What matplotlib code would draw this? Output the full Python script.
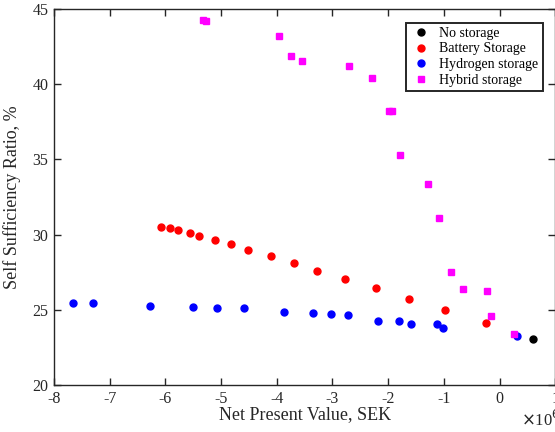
import numpy as np
import matplotlib.pyplot as plt
from matplotlib.ticker import FuncFormatter

# NPV in SEK, self sufficiency ratio in %
npv_none = [0.602e6]
ssr_none = [23.08]

npv_battery = [-6.075e6, -5.910e6, -5.776e6, -5.567e6, -5.389e6, -5.103e6, -4.823e6, -4.518e6,
               -4.112e6, -3.699e6, -3.280e6, -2.771e6, -2.219e6, -1.621e6, -0.986e6, -0.243e6]
ssr_battery = [30.51, 30.42, 30.29, 30.11, 29.91, 29.65, 29.36, 29.00,
               28.58, 28.12, 27.61, 27.04, 26.42, 25.73, 24.98, 24.09]

npv_hydrogen = [-7.651e6, -7.301e6, -6.278e6, -5.503e6, -5.065e6, -4.588e6, -3.877e6, -3.349e6,
                -3.019e6, -2.727e6, -2.174e6, -1.799e6, -1.596e6, -1.132e6, -1.011e6, 0.310e6]
ssr_hydrogen = [25.44, 25.44, 25.27, 25.18, 25.11, 25.11, 24.85, 24.82,
                24.71, 24.67, 24.27, 24.27, 24.07, 24.07, 23.81, 23.23]

npv_hybrid = [-5.319e6, -5.274e6, -3.966e6, -3.737e6, -3.546e6, -2.708e6, -2.282e6, -1.980e6,
              -1.935e6, -1.793e6, -1.291e6, -1.094e6, -0.878e6, -0.649e6, -0.217e6, -0.160e6, 0.259e6]
ssr_hybrid = [44.27, 44.18, 43.21, 41.88, 41.57, 41.19, 40.42, 38.21,
              38.21, 35.27, 33.38, 31.11, 27.50, 26.39, 26.24, 24.56, 23.38]

plt.rcParams['font.family'] = ['Liberation Serif', 'DejaVu Serif']
plt.rcParams['axes.unicode_minus'] = False
dark = '#262626'

fig = plt.figure(figsize=(5.55, 4.32), dpi=100)
ax = fig.add_axes([0.0973, 0.1088, 0.9032, 0.8704])

ms = 5
ax.plot(npv_none, ssr_none, 'o', color='black', markersize=ms, label='No storage')
ax.plot(npv_battery, ssr_battery, 'o', color='red', markersize=ms, label='Battery Storage')
ax.plot(npv_hydrogen, ssr_hydrogen, 'o', color='blue', markersize=ms, label='Hydrogen storage')
ax.plot(npv_hybrid, ssr_hybrid, 's', color='magenta', markersize=4.3, label='Hybrid storage')

ax.set_xlim(-8e6, 1e6)
ax.set_ylim(20, 45)
ax.set_xticks(np.arange(-8, 2) * 1e6)
ax.set_yticks([20, 25, 30, 35, 40, 45])
ax.xaxis.set_major_formatter(FuncFormatter(lambda v, p: f'{v / 1e6:.0f}'))

ax.tick_params(direction='in', top=True, right=True, length=5, width=1,
               colors=dark, labelsize=11.5, pad=4)
for s in ax.spines.values():
    s.set_color(dark)
    s.set_linewidth(1)

ax.set_xlabel('Net Present Value, SEK', fontsize=13, color=dark, labelpad=0)
ax.set_ylabel('Self Sufficiency Ratio, %', fontsize=13, color=dark, labelpad=8)
fig.text(0.938, 0.005, r'$\times$10$^6$', fontsize=12, color=dark, ha='left', va='bottom')

leg = ax.legend(loc='upper right', bbox_to_anchor=(0.975, 0.964), borderaxespad=0,
                fontsize=10, fancybox=False, framealpha=1, edgecolor=dark, borderpad=0.3,
                labelspacing=0.2, handletextpad=0.5, handlelength=1.6)
leg.get_frame().set_linewidth(1.4)

fig.savefig('out.png', dpi=100)
